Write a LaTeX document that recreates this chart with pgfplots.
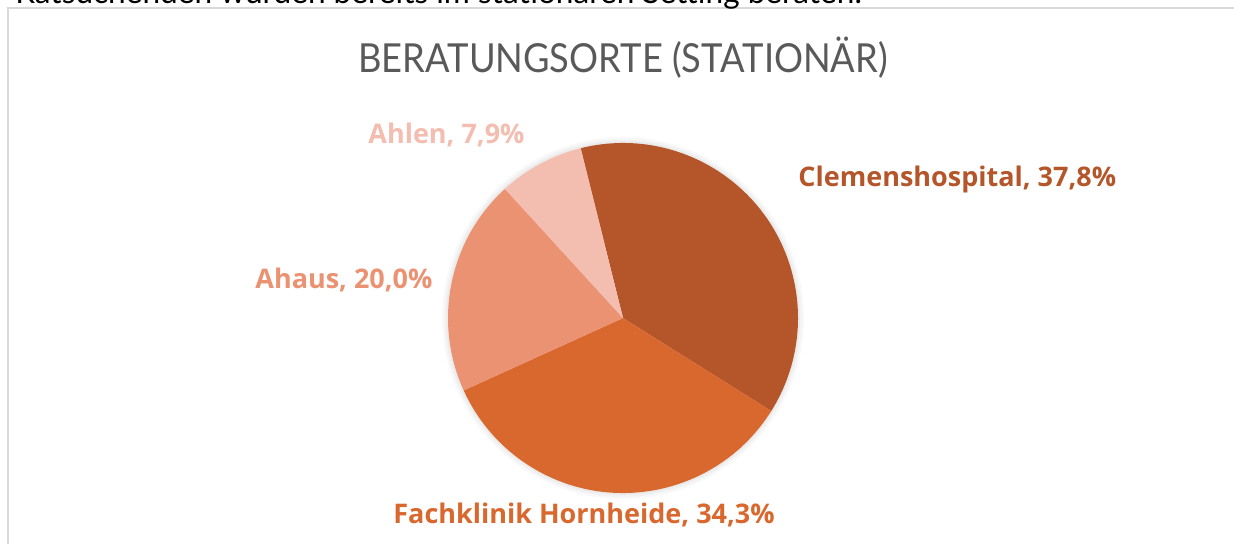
\documentclass[border=0pt]{standalone}
\usepackage{pgfplots}
\pgfplotsset{compat=1.18}
\usepackage{fontspec}
\setmainfont{Lato}
\newfontfamily\labelfont{Open Sans}

\definecolor{clemens}{HTML}{B5562A}
\definecolor{fachklinik}{HTML}{D9682E}
\definecolor{ahaus}{HTML}{EB9272}
\definecolor{ahlen}{HTML}{F3BDB0}
\definecolor{titlegray}{HTML}{595959}
\definecolor{framegray}{HTML}{D9D9D9}

\tikzset{lbl/.style={anchor=base west, inner sep=0, font=\labelfont\bfseries\fontsize{13.5}{15}\selectfont}}

% pie slice: start (cumulative %), share (%), colour; starts at 104 deg, clockwise
\newcommand\slice[3]{%
  \fill[#3] (C) -- ++({104-3.6*#1}:87.5pt)
    arc[start angle={104-3.6*#1}, delta angle={-3.6*#2}, radius=87.5pt] -- cycle;}

\begin{document}
\begin{tikzpicture}
\useasboundingbox (0,0) rectangle (617pt,271.5pt);
\begin{axis}[
  at={(0,0)}, anchor=south west,
  width=617pt, height=271.5pt, scale only axis,
  xmin=0, xmax=1234, ymin=0, ymax=543, y dir=reverse,
  hide axis, clip=false,
]
% frame of the chart area
\draw[framegray, line width=1.2pt] (axis cs:8,600) -- (axis cs:8,8) -- (axis cs:1260,8);

% cut-off sentence above the chart
\node[anchor=base west, inner sep=0, font=\fontsize{15.8}{18}\selectfont]
  at (axis cs:15,3) {Ratsuchenden wurden bereits im stationären Setting beraten.};

\node[anchor=base, inner sep=0, text=titlegray, font=\fontsize{20}{24}\selectfont]
  at (axis cs:623,72) {\scalebox{0.907}[1]{BERATUNGSORTE (STATIONÄR)}};

\coordinate (C) at (axis cs:623,318);
% soft glow
\fill[black, opacity=0.025] (C) circle[radius=90.5pt];
\fill[black, opacity=0.025] (C) circle[radius=89.5pt];
\fill[black, opacity=0.03] (C) circle[radius=88.5pt];

\slice{0}{37.8}{clemens}
\slice{37.8}{34.3}{fachklinik}
\slice{72.1}{20.0}{ahaus}
\slice{92.1}{7.9}{ahlen}

\node[lbl, text=clemens] at (axis cs:798,186) {Clemenshospital, 37,8\%};
\node[lbl, text=fachklinik] at (axis cs:393,523) {Fachklinik Hornheide, 34,3\%};
\node[lbl, text=ahaus] at (axis cs:255,288) {Ahaus, 20,0\%};
\node[lbl, text=ahlen] at (axis cs:368,143) {Ahlen, 7,9\%};
\end{axis}
\end{tikzpicture}
\end{document}
